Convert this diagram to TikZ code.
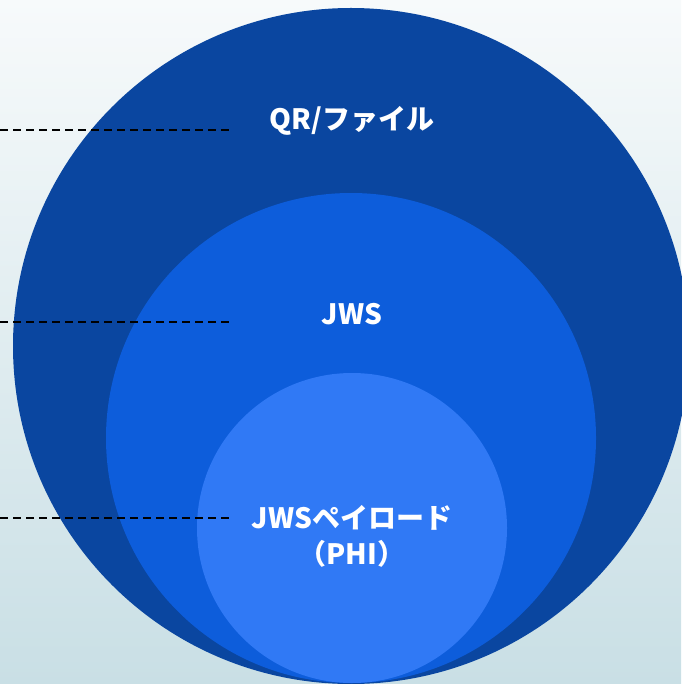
\documentclass[tikz,border=0pt]{standalone}
\usepackage{fontspec}
\usepackage{tikz}
\newfontfamily\jpfont{Noto Sans CJK JP}
\definecolor{bgtop}{HTML}{F7FAFB}
\definecolor{bgbottom}{HTML}{C9DFE5}
\definecolor{outerblue}{HTML}{0A46A0}
\definecolor{midblue}{HTML}{0D5DDB}
\definecolor{innerblue}{HTML}{3079F5}

\begin{document}
\begin{tikzpicture}[x=1pt,y=-1pt,
  ring/.style={circle,inner sep=0pt,fill=#1},
  lbl/.style={text=white,font=\jpfont\bfseries\fontsize{28}{36}\selectfont,align=center},
  guide/.style={black,line width=1.4pt,dash pattern=on 8pt off 5pt}]
\useasboundingbox (0,0) rectangle (681,684);
\shade[top color=bgtop,bottom color=bgbottom] (0,0) rectangle (681,684);
\node [ring=outerblue,minimum size=676pt] (qr) at (351,346) {};
\node [ring=midblue,minimum size=490pt] (jws) at (351,438) {};
\node [ring=innerblue,minimum size=310pt] (payload) at (352,528) {};
\node [lbl] (qrtext) at (352,121) {QR/ファイル};
\node [lbl] (jwstext) at (352,314) {JWS};
\node [lbl] (payloadtext) at (352,536) {JWSペイロード\\（PHI）};
\coordinate (qrl) at (0,130);
\coordinate (qrr) at (230,130);
\coordinate (jwsl) at (0,322);
\coordinate (jwsr) at (230,322);
\coordinate (payl) at (0,518);
\coordinate (payr) at (230,518);
\draw [guide] (qrl) -- (qrr);
\draw [guide] (jwsl) -- (jwsr);
\draw [guide] (payl) -- (payr);
\end{tikzpicture}
\end{document}
